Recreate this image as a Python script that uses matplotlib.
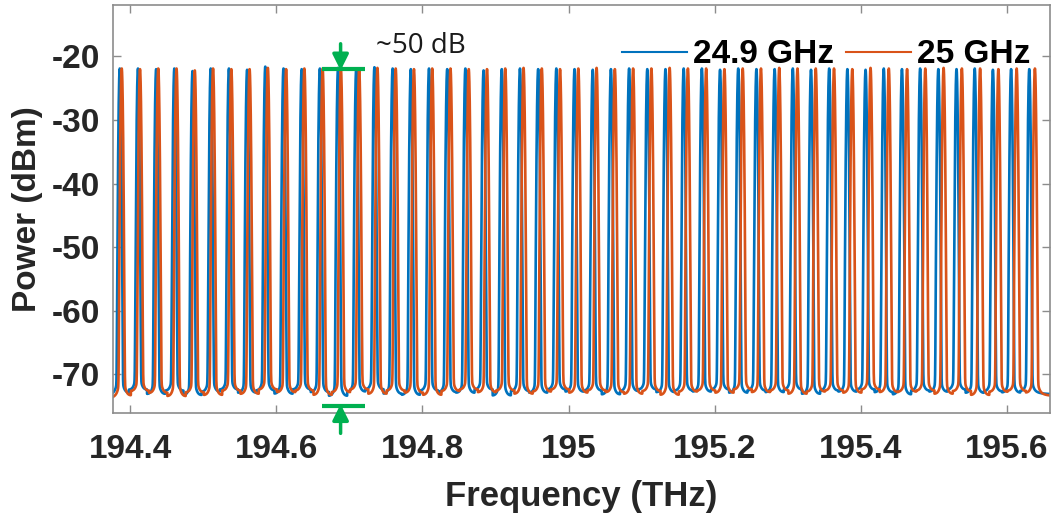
import numpy as np
import matplotlib
matplotlib.use("Agg")
import matplotlib.pyplot as plt

plt.rcParams["axes.unicode_minus"] = False

# 梳狀光譜的譜線位置 (THz)、峰值功率與底噪 (dBm)
blue_peak_thz = [
    194.3857, 194.4106, 194.4355, 194.4604, 194.4853, 194.5102, 194.5351, 194.5600,
    194.5849, 194.6098, 194.6347, 194.6596, 194.6845, 194.7094, 194.7343, 194.7592,
    194.7841, 194.8090, 194.8339, 194.8588, 194.8837, 194.9086, 194.9335, 194.9584,
    194.9833, 195.0082, 195.0331, 195.0580, 195.0829, 195.1078, 195.1327, 195.1576,
    195.1825, 195.2074, 195.2323, 195.2572, 195.2821, 195.3070, 195.3319, 195.3568,
    195.3817, 195.4066, 195.4315, 195.4564, 195.4813, 195.5062, 195.5311, 195.5560,
    195.5809, 195.6058, 195.6307,
]
orange_peak_thz = [
    194.3884, 194.4134, 194.4384, 194.4634, 194.4884, 194.5134, 194.5384, 194.5634,
    194.5884, 194.6134, 194.6384, 194.6634, 194.6884, 194.7134, 194.7384, 194.7634,
    194.7884, 194.8134, 194.8384, 194.8634, 194.8884, 194.9134, 194.9384, 194.9634,
    194.9884, 195.0134, 195.0384, 195.0634, 195.0884, 195.1134, 195.1384, 195.1634,
    195.1884, 195.2134, 195.2384, 195.2634, 195.2884, 195.3134, 195.3384, 195.3634,
    195.3884, 195.4134, 195.4384, 195.4634, 195.4884, 195.5134, 195.5384, 195.5634,
    195.5884, 195.6134, 195.6384,
]
blue_peak_dbm = [
    -21.9, -21.9, -22.0, -21.9, -22.3, -21.9, -21.9, -22.1, -21.6, -21.9, -22.0, -21.9, -21.8,
    -21.9, -21.7, -21.9, -22.0, -21.9, -22.0, -21.9, -22.2, -22.0, -21.9, -22.0, -21.9, -22.0,
    -22.1, -22.0, -21.9, -22.0, -22.0, -21.9, -21.9, -22.1, -21.9, -22.0, -22.0, -21.9, -22.1,
    -21.9, -22.0, -22.1, -21.9, -22.0, -21.9, -22.0, -22.0, -21.9, -22.1, -22.0, -22.0,
]
orange_peak_dbm = [
    -21.9, -22.0, -21.9, -21.9, -22.2, -21.9, -22.0, -22.0, -21.8, -22.0, -21.9, -21.9, -21.9,
    -22.0, -21.8, -21.9, -22.0, -21.9, -21.9, -22.0, -22.0, -21.9, -21.8, -21.9, -22.0, -21.9,
    -21.8, -22.0, -21.9, -21.9, -21.8, -21.9, -21.9, -22.0, -21.9, -21.9, -21.8, -21.9, -21.9,
    -21.9, -22.0, -21.8, -21.9, -22.0, -21.9, -21.8, -21.9, -21.9, -22.0, -21.9, -21.9,
]
blue_floor_dbm = [
    -73.5, -73.0, -73.8, -73.2, -74.0, -73.4, -73.0, -73.6, -73.2, -73.8, -73.0, -73.5, -74.2,
    -73.4, -73.0, -73.8, -74.0, -73.2, -73.5, -73.6, -73.0, -74.1, -73.3, -73.6, -73.0, -73.4,
    -73.2, -73.9, -73.3, -73.0, -73.5, -73.2, -73.4, -73.0, -73.6, -73.2, -73.5, -73.0, -73.8,
    -73.2, -73.4, -73.0, -73.5, -73.9, -73.2, -73.4, -73.0, -73.6, -73.3, -73.5, -73.2,
]
orange_floor_dbm = [
    -74.0, -73.2, -73.6, -74.2, -73.5, -74.0, -73.2, -73.8, -73.0, -73.5, -73.2, -74.0, -73.5,
    -73.0, -73.8, -73.2, -73.6, -74.0, -73.3, -73.0, -73.5, -73.2, -73.8, -73.4, -73.0, -73.6,
    -73.2, -73.5, -73.8, -73.3, -74.0, -73.4, -73.2, -73.6, -73.0, -73.5, -73.2, -73.8, -73.4,
    -73.2, -73.6, -73.0, -73.5, -73.4, -73.2, -73.8, -73.3, -74.0, -73.4, -73.2, -73.5,
]
labels = ["24.9 GHz", "25 GHz"]
colors = ["#0072BD", "#D95319"]

GREEN = "#00B050"
FONT = "Liberation Sans"


def comb_trace(freq, peaks, pk_dbm, floor_dbm, w=0.00125, a=4e-5, g=0.0014):
    """由譜線參數畫出 OSA 量到的線形（高斯主峰 + 洛倫茲裙擺 + 底噪）。"""
    peaks = np.asarray(peaks)
    pk = 10 ** (np.asarray(pk_dbm) / 10)
    fl = 10 ** (np.asarray(floor_dbm) / 10)
    df = freq[:, None] - peaks[None, :]
    lin = (pk * (np.exp(-(df / w) ** 2) + a / (1 + (df / g) ** 2))).sum(axis=1)
    nearest = np.abs(df).argmin(axis=1)
    lin = lin + fl[nearest]
    return 10 * np.log10(lin)


freq = np.linspace(194.37, 195.67, 26001)

fig = plt.figure(figsize=(10.51, 5.19), dpi=100)
ax = fig.add_axes([0.1072, 0.2042, 0.8918, 0.7862])

ax.plot(freq, comb_trace(freq, blue_peak_thz, blue_peak_dbm, blue_floor_dbm),
        color=colors[0], lw=1.9, label=labels[0])
ax.plot(freq, comb_trace(freq, orange_peak_thz, orange_peak_dbm, orange_floor_dbm),
        color=colors[1], lw=1.9, label=labels[1])

ax.set_xlim(194.376, 195.659)
ax.set_ylim(-76.1, -11.9)
ax.set_xticks([194.4, 194.6, 194.8, 195.0, 195.2, 195.4, 195.6])
ax.set_xticklabels(["194.4", "194.6", "194.8", "195", "195.2", "195.4", "195.6"])
ax.set_yticks([-20, -30, -40, -50, -60, -70])

ax.tick_params(direction="in", length=6, width=1, color="#8c8c8c",
               top=True, right=True, labelcolor="#262626")
ax.tick_params(axis="x", pad=15)
ax.tick_params(axis="y", pad=9)
for lab in ax.get_xticklabels() + ax.get_yticklabels():
    lab.set_fontfamily(FONT)
    lab.set_fontweight("bold")
    lab.set_fontsize(24)
for sp in ax.spines.values():
    sp.set_color("#8c8c8c")
    sp.set_linewidth(1.2)

ax.set_xlabel("Frequency (THz)", fontsize=25, fontweight="bold", family=FONT,
              color="#262626", labelpad=11)
ax.set_ylabel("Power (dBm)", fontsize=24, fontweight="bold", family=FONT,
              color="#262626", labelpad=6)

leg = ax.legend(loc="center right", bbox_to_anchor=(0.997, 0.878), ncol=2,
                frameon=False, borderpad=0, handlelength=1.95, handletextpad=0.18,
                columnspacing=0.35, prop={"family": FONT, "weight": "bold", "size": 24})
for line in leg.get_lines():
    line.set_linewidth(1.5)

# ~50 dB 標示
xm = 194.688
ax.plot([194.662, 194.722], [-21.9, -21.9], color=GREEN, lw=3, solid_capstyle="butt")
ax.plot([194.662, 194.722], [-75.0, -75.0], color=GREEN, lw=3, solid_capstyle="butt",
        clip_on=False)
arrow = dict(arrowstyle="-|>", color=GREEN, lw=2.5, mutation_scale=24,
             shrinkA=0, shrinkB=0)
ax.annotate("", xy=(xm, -22.2), xytext=(xm, -18.0), arrowprops=arrow,
            annotation_clip=False)
ax.annotate("", xy=(xm, -74.7), xytext=(xm, -79.3), arrowprops=arrow,
            annotation_clip=False)
ax.text(194.736, -19.5, "~50 dB", fontsize=20, family="Open Sans",
        color="#1a1a1a", va="baseline", ha="left")

fig.savefig("out.png", dpi=100)
